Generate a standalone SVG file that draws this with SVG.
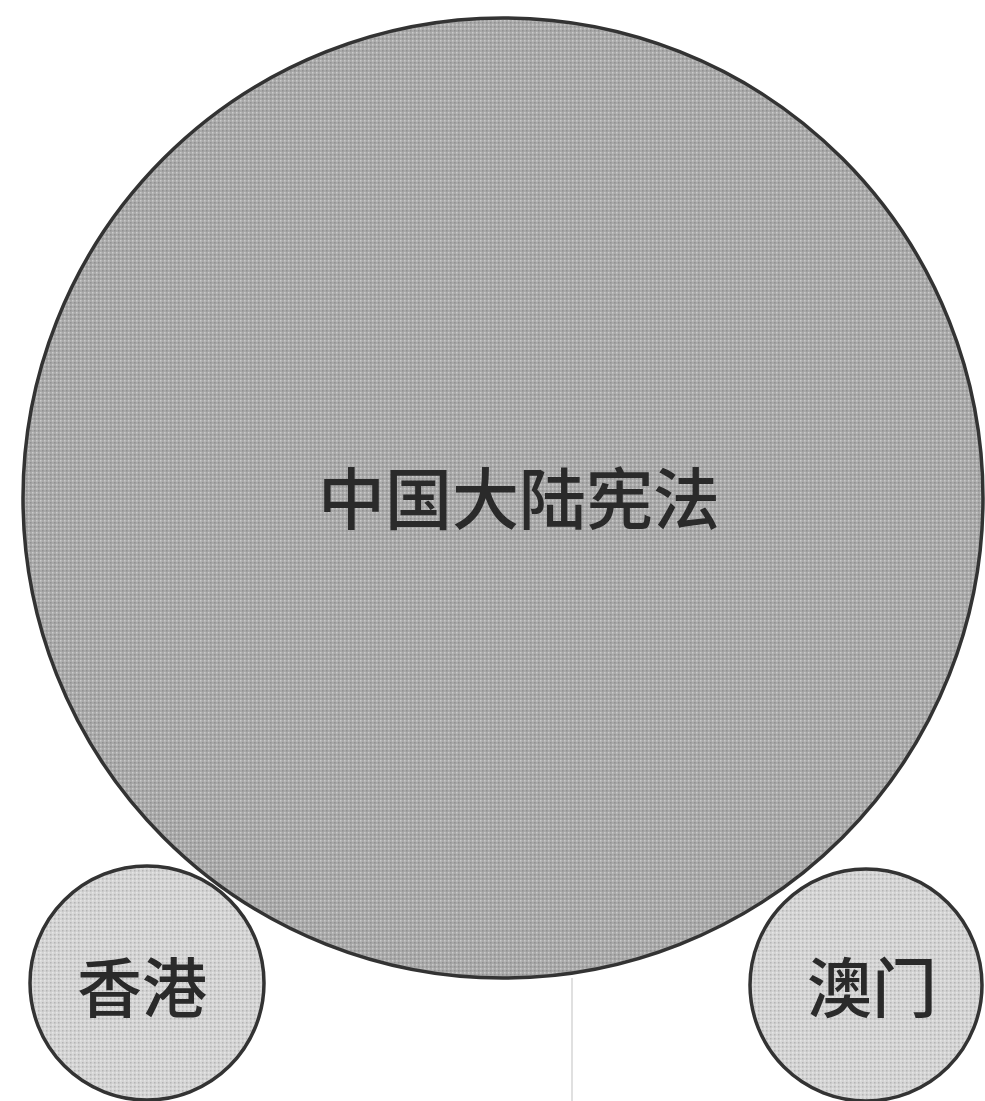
<svg xmlns="http://www.w3.org/2000/svg" width="985" height="1101" viewBox="0 0 985 1101">
<style>
.big{fill:#a9a9a9;stroke:#333333;stroke-width:3.5}
.small{fill:#d4d4d4;stroke:#333333;stroke-width:3.5}
.lbl{font-family:"Noto Sans CJK SC","Noto Sans CJK TC",sans-serif;fill:#2a2a2a;text-anchor:middle;font-weight:500}
</style>
<defs>
<pattern id="dots" width="4" height="4" patternUnits="userSpaceOnUse">
<rect x="0" y="0" width="1.5" height="1.5" fill="#ffffff" fill-opacity="0.4"/>
<rect x="2" y="2" width="1.5" height="1.5" fill="#000000" fill-opacity="0.15"/>
</pattern>
</defs>
<rect width="985" height="1101" fill="#ffffff"/>
<g id="artifact">
<line x1="572" y1="978" x2="572" y2="1101" stroke="#d6d6d6" stroke-width="1.5"/>
</g>
<g id="mainland">
<circle class="big" cx="503" cy="498" r="480"/>
<circle cx="503" cy="498" r="478" fill="url(#dots)"/>
<text class="lbl" x="519" y="524" font-size="67">中国大陆宪法</text>
</g>
<g id="hongkong">
<circle class="small" cx="147" cy="983" r="117"/>
<circle cx="147" cy="983" r="115" fill="url(#dots)"/>
<text class="lbl" x="142" y="1012" font-size="65">香港</text>
</g>
<g id="macau">
<circle class="small" cx="866" cy="985" r="116"/>
<circle cx="866" cy="985" r="114" fill="url(#dots)"/>
<text class="lbl" x="872" y="1012" font-size="65">澳门</text>
</g>
</svg>
